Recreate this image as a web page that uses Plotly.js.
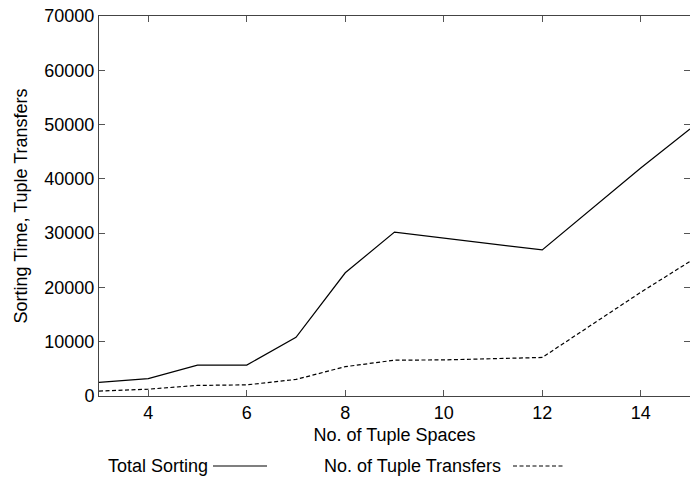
<!DOCTYPE html>
<html><head><meta charset="utf-8">
<script src="https://cdn.plot.ly/plotly-3.0.1.min.js"></script>
<style>html,body{margin:0;padding:0;background:#fff}#chart{width:690px;height:477px}</style>
</head><body><div id="chart"></div>
<script>
var tupleSpaces = [3, 4, 5, 6, 7, 8, 9, 10, 12, 14, 15];
var totalSorting = [2500, 3200, 5700, 5700, 10800, 22700, 30200, 29100, 26900, 42000, 49200];
var tupleTransfers = [900, 1250, 1950, 2050, 3050, 5400, 6600, 6650, 7100, 19100, 24800];
var xTicks = [4, 6, 8, 10, 12, 14];
var yTicks = [0, 10000, 20000, 30000, 40000, 50000, 60000, 70000];
var seriesNames = ['Total Sorting', 'No. of Tuple Transfers'];

var fam = 'Liberation Sans, Arial, sans-serif';
var font = {family: fam, size: 18, color: '#000'};
var traces = [
  {x: tupleSpaces, y: totalSorting, name: seriesNames[0], mode: 'lines', line: {color: '#000', width: 1.2}},
  {x: tupleSpaces, y: tupleTransfers, name: seriesNames[1], mode: 'lines', line: {color: '#000', width: 1.2, dash: '4px,2.5px'}}
];
var legY = (477 - 466 - 81) / 380;
var layout = {
  width: 690, height: 477,
  margin: {l: 99, r: 0, t: 16, b: 81},
  showlegend: false,
  font: font,
  paper_bgcolor: '#fff', plot_bgcolor: '#fff',
  xaxis: {range: [3, 15], tickvals: xTicks, ticks: 'inside', ticklen: 6, tickcolor: '#555',
    showline: true, linecolor: '#444', mirror: 'ticks', showgrid: false, zeroline: false,
    tickfont: font, title: {text: 'No. of Tuple Spaces', font: font, standoff: 6}},
  yaxis: {range: [0, 70000], tickvals: yTicks, tickformat: 'd', ticks: 'inside', ticklen: 6, tickcolor: '#555',
    showline: true, linecolor: '#444', mirror: 'ticks', showgrid: false, zeroline: false,
    tickfont: font, title: {text: 'Sorting Time, Tuple Transfers', font: font, standoff: 12}},
  annotations: [
    {xref: 'paper', yref: 'paper', x: (106 - 99) / 591, y: legY, xanchor: 'left', yanchor: 'middle',
      text: seriesNames[0], showarrow: false, font: font},
    {xref: 'paper', yref: 'paper', x: (322 - 99) / 591, y: legY, xanchor: 'left', yanchor: 'middle',
      text: seriesNames[1], showarrow: false, font: font}
  ],
  shapes: [
    {type: 'line', xref: 'paper', yref: 'paper', x0: (213 - 99) / 591, x1: (267 - 99) / 591,
      y0: legY, y1: legY, line: {color: '#000', width: 1.2}},
    {type: 'line', xref: 'paper', yref: 'paper', x0: (513 - 99) / 591, x1: (565 - 99) / 591,
      y0: legY, y1: legY, line: {color: '#000', width: 1, dash: '4px,2.5px'}}
  ]
};
Plotly.newPlot('chart', traces, layout, {displayModeBar: false});
</script></body></html>
